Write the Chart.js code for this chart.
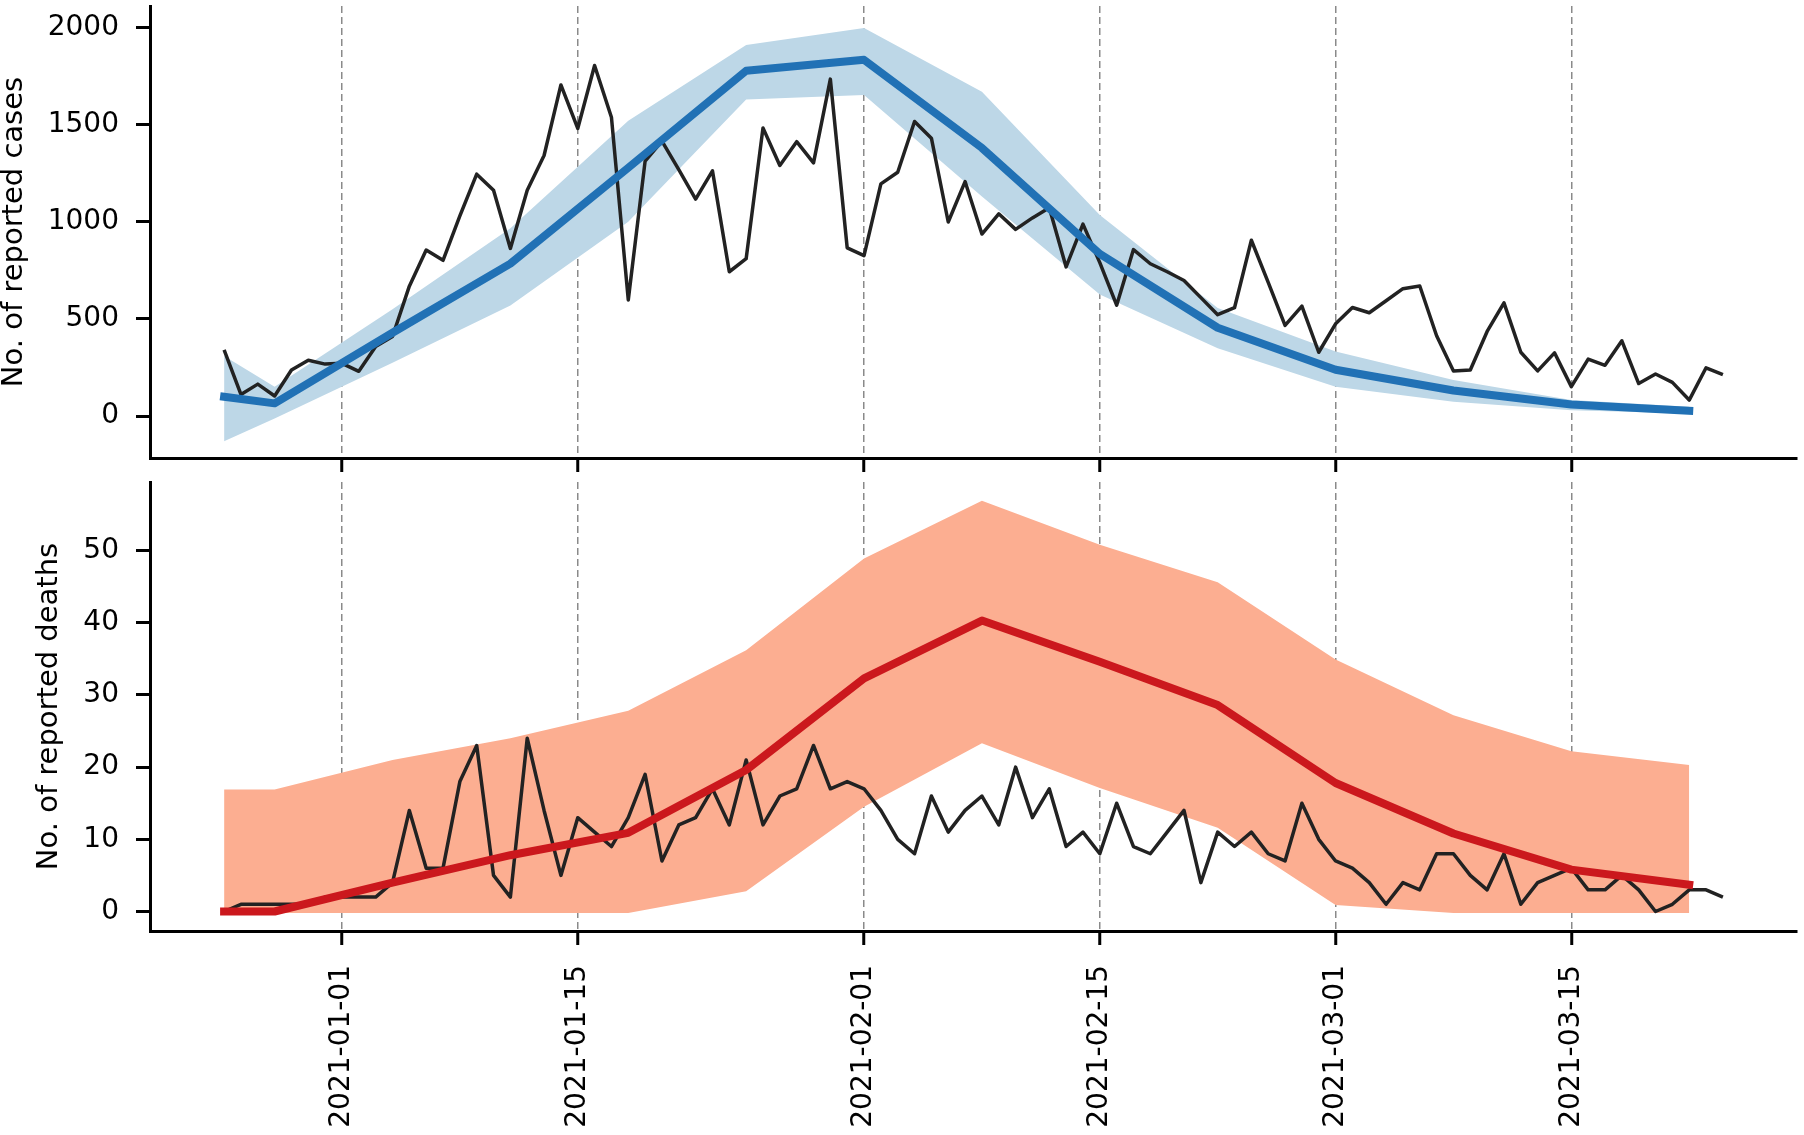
<!DOCTYPE html>
<html>
<head>
<meta charset="utf-8">
<script src="https://cdn.jsdelivr.net/npm/chart.js@4.4.1/dist/chart.umd.min.js"></script>
<style>
  html, body { margin: 0; padding: 0; background: #fff; }
  #wrap { position: relative; width: 1804px; height: 1135px; }
  canvas { position: absolute; left: 0; }
  #cases { top: 0; }
  #deaths { top: 470px; }
</style>
</head>
<body>
<div id="wrap">
  <canvas id="cases" width="1804" height="475"></canvas>
  <canvas id="deaths" width="1804" height="665"></canvas>
</div>
<script>
// x values are days counted from 2021-01-01
const startDay = -7; // first reported day, 2020-12-25
const tickDays = [0, 14, 31, 45, 59, 73];
const tickLabels = ["2021-01-01", "2021-01-15", "2021-02-01", "2021-02-15", "2021-03-01", "2021-03-15"];
const caseTicks = [0, 500, 1000, 1500, 2000];
const deathTicks = [0, 10, 20, 30, 40, 50];

// daily reported numbers (black lines)
const reportedCases = [
  341, 112, 165, 104, 238, 288, 268, 272, 231, 358,
  410, 669, 855, 802, 1030, 1245, 1162, 863, 1162, 1341,
  1704, 1480, 1804, 1538, 598, 1312, 1415, 1268, 1117, 1262,
  743, 810, 1483, 1290, 1412, 1303, 1734, 866, 826, 1195,
  1255, 1516, 1430, 999, 1207, 937, 1041, 961, 1020, 1072,
  768, 988, 790, 571, 857, 784, 743, 698, 610, 522,
  558, 905, 688, 467, 566, 329, 475, 559, 532, 594,
  656, 670, 414, 233, 238, 436, 583, 329, 233, 326,
  152, 294, 262, 388, 168, 217, 174, 83, 249, 214
];
const reportedDeaths = [
  0, 1, 1, 1, 1, 1, 2, 2, 2, 2,
  4, 14, 6, 6, 18, 23, 5, 2, 24, 14,
  5, 13, 11, 9, 13, 19, 7, 12, 13, 17,
  12, 21, 12, 16, 17, 23, 17, 18, 17, 14,
  10, 8, 16, 11, 14, 16, 12, 20, 13, 17,
  9, 11, 8, 15, 9, 8, 11, 14, 4, 11,
  9, 11, 8, 7, 15, 10, 7, 6, 4, 1,
  4, 3, 8, 8, 5, 3, 8, 1, 4, 5,
  6, 3, 3, 5, 3, 0, 1, 3, 3, 2
];

// model fit, weekly points
const modelDays = [-7, -4, 3, 10, 17, 24, 31, 38, 45, 52, 59, 66, 73, 80];
const casesMedian = [100, 66, 429, 785, 1278, 1777, 1833, 1380, 835, 455, 239, 132, 60, 28];
const casesLow = [-129, -12, 275, 570, 1000, 1629, 1652, 1130, 626, 350, 152, 74, 31, 14];
const casesHigh = [310, 152, 550, 967, 1520, 1910, 1997, 1669, 1035, 557, 333, 186, 83, 48];
const deathsMedian = [0, 0, 4.0, 7.8, 10.9, 19.6, 32.3, 40.3, 34.6, 28.6, 17.8, 10.8, 5.8, 3.7];
const deathsLow = [-0.2, -0.2, -0.2, -0.2, -0.2, 2.8, 14.5, 23.3, 17.1, 11.6, 0.9, -0.2, -0.2, -0.2];
const deathsHigh = [16.9, 16.9, 21.0, 24.0, 27.8, 36.2, 48.9, 56.9, 50.8, 45.6, 34.9, 27.2, 22.2, 20.3];

Chart.defaults.font.family = "'DejaVu Sans'";
Chart.defaults.color = "#000";

const daily = (vals) => vals.map((v, i) => ({ x: startDay + i, y: v }));
const weekly = (vals) => vals.map((v, i) => ({ x: modelDays[i], y: v }));

const datasets = (observed, median, low, high, lineColor, bandColor) => [
  {
    data: weekly(median),
    borderColor: lineColor,
    borderWidth: 8,
    borderCapStyle: "square",
    borderJoinStyle: "round",
    pointRadius: 0,
    fill: false,
  },
  {
    data: daily(observed),
    borderColor: "#222222",
    borderWidth: 3.5,
    borderJoinStyle: "round",
    pointRadius: 0,
    fill: false,
  },
  {
    data: weekly(low),
    borderWidth: 0,
    borderColor: "rgba(0,0,0,0)",
    pointRadius: 0,
    fill: false,
  },
  {
    data: weekly(high),
    borderWidth: 0,
    borderColor: "rgba(0,0,0,0)",
    backgroundColor: bandColor,
    pointRadius: 0,
    fill: "-1",
  },
];

const options = (yMin, yMax, yTicks, title, titlePad, showLabels, xHeight, padTop) => ({
  responsive: false,
  animation: false,
  layout: { padding: { top: padTop, right: 7, left: 0, bottom: 0 } },
  plugins: { legend: { display: false }, tooltip: { enabled: false } },
  elements: { line: { tension: 0 } },
  scales: {
    x: {
      type: "linear",
      min: -11.4,
      max: 86.4,
      afterBuildTicks: (s) => {
        s.ticks = tickDays.map((v) => ({ value: v }));
      },
      afterFit: (s) => {
        s.height = xHeight;
        s.paddingLeft = 0;
        s.paddingRight = 0;
      },
      grid: { color: "#8a8a8a", lineWidth: 1.5, tickColor: "#000", tickWidth: 3, tickLength: 14 },
      border: { color: "#000", width: 3, dash: [7, 4] },
      ticks: {
        display: showLabels,
        autoSkip: false,
        minRotation: 90,
        maxRotation: 90,
        padding: 20,
        font: { size: 28 },
        callback: (v) => tickLabels[tickDays.indexOf(v)],
      },
    },
    y: {
      min: yMin,
      max: yMax,
      afterBuildTicks: (s) => {
        s.ticks = yTicks.map((v) => ({ value: v }));
      },
      afterFit: (s) => {
        s.width = 150;
        s.paddingTop = 0;
        s.paddingBottom = 0;
      },
      grid: { drawOnChartArea: false, tickColor: "#000", tickWidth: 3, tickLength: 14 },
      border: { color: "#000", width: 3 },
      ticks: { padding: 17, font: { size: 28 }, callback: (v) => String(v) },
      title: {
        display: true,
        text: title,
        font: { size: 29, lineHeight: 1 },
        padding: { top: titlePad, bottom: 0 },
      },
    },
  },
});

new Chart(document.getElementById("cases"), {
  type: "line",
  data: { datasets: datasets(reportedCases, casesMedian, casesLow, casesHigh, "#2171b5", "#bdd7e7") },
  options: options(-215, 2110, caseTicks, "No. of reported cases", 0, false, 17, 6),
});

new Chart(document.getElementById("deaths"), {
  type: "line",
  data: { datasets: datasets(reportedDeaths, deathsMedian, deathsLow, deathsHigh, "#cb181d", "#fcae91") },
  options: options(-2.7, 59.5, deathTicks, "No. of reported deaths", 35, true, 204, 12),
});
</script>
</body>
</html>
